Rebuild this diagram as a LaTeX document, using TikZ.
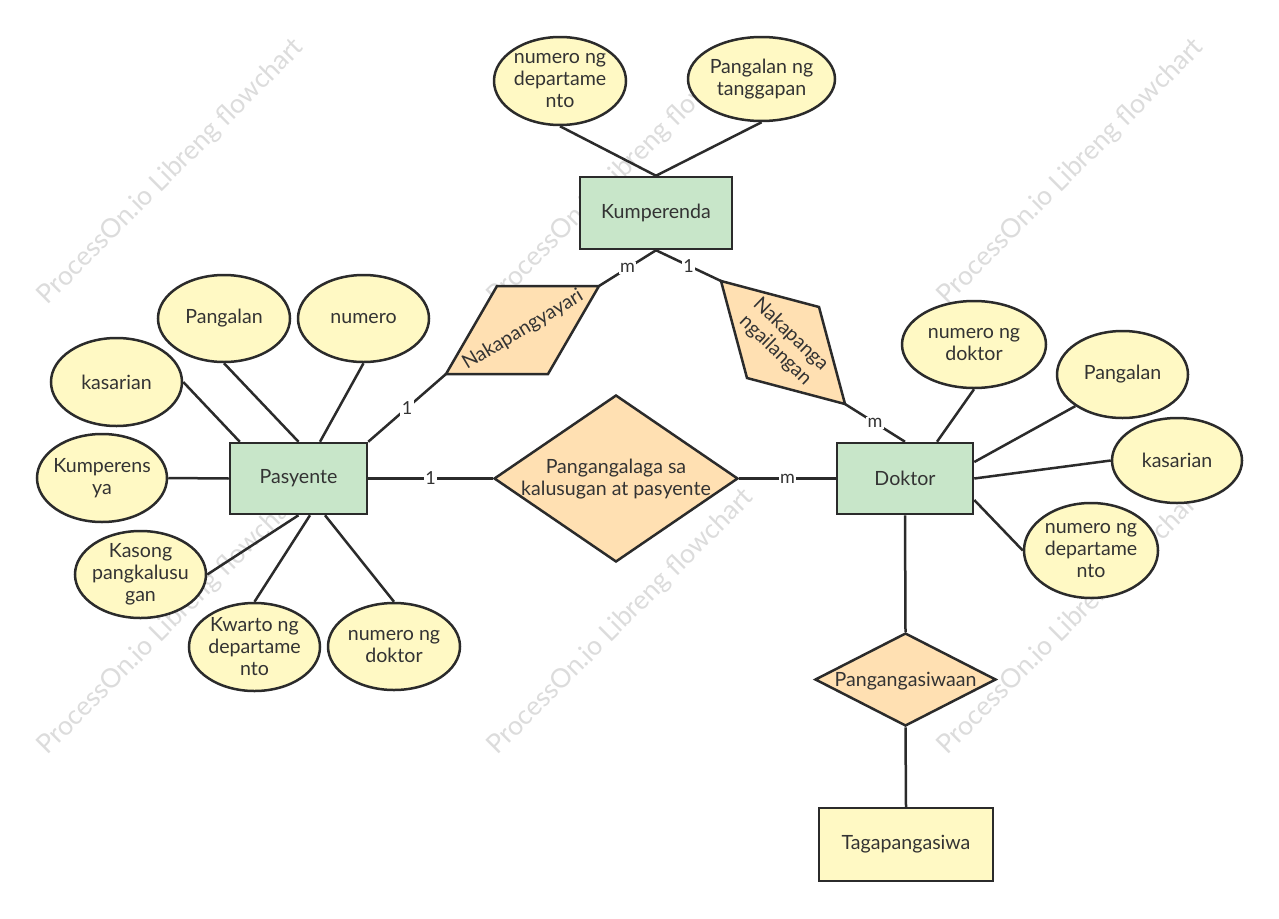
\documentclass[tikz,border=0pt]{standalone}
\usepackage{fontspec}
\setmainfont{Lato}
\usetikzlibrary{shapes.geometric,calc}
\definecolor{ent}{HTML}{C8E6C9}
\definecolor{attr}{HTML}{FFF9C4}
\definecolor{rel}{HTML}{FFE0B2}
\definecolor{ln}{HTML}{2B2B2B}
\definecolor{txt}{HTML}{333333}
\definecolor{wmc}{HTML}{DCDCDC}
\newcommand{\attrnode}[5]{%
  \node[attrib, minimum width=#3, minimum height=#4] (#1) at (#2) {};
  \node[tx] (#1-t) at (#1) {#5};}
\begin{document}
\begin{tikzpicture}[x=1pt,y=-1pt,
  tx/.style={font=\fontsize{19.6}{22}\selectfont, text=txt, align=center, inner sep=0pt},
  entity/.style={draw=ln, line width=2.5pt, fill=ent, rectangle, inner sep=0pt, tx},
  attrib/.style={draw=ln, line width=2.5pt, fill=attr, ellipse, inner sep=0pt},
  relat/.style={draw=ln, line width=2.5pt, fill=rel, diamond, inner sep=0pt},
  relshape/.style={draw=ln, line width=2.5pt, fill=rel, line join=miter},
  conn/.style={draw=ln, line width=2.5pt},
  card/.style={fill=white, inner sep=1.5pt, text=txt, font=\fontsize{18}{18}\selectfont},
  wm/.style={text=wmc, rotate=45, font=\fontsize{26.5}{26.5}\selectfont, inner sep=0pt}
]
\useasboundingbox[fill=white] (0,0) rectangle (1279,918);

% watermarks (behind everything)
\node[wm] (wm1) at (171,172) {ProcessOn.io Libreng flowchart};
\node[wm] (wm2) at (621,172) {ProcessOn.io Libreng flowchart};
\node[wm] (wm3) at (1071,172) {ProcessOn.io Libreng flowchart};
\node[wm] (wm4) at (171,622) {ProcessOn.io Libreng flowchart};
\node[wm] (wm5) at (621,622) {ProcessOn.io Libreng flowchart};
\node[wm] (wm6) at (1071,622) {ProcessOn.io Libreng flowchart};

% entities
\node[entity, minimum width=152, minimum height=72] (kum) at (656,213) {Kumperenda};
\node[entity, minimum width=137, minimum height=71] (pas) at (298.5,478.5) {Pasyente};
\node[entity, minimum width=136, minimum height=71] (dok) at (905,478.5) {Doktor};
\node[entity, fill=attr, minimum width=174, minimum height=73] (tag) at (906,844.5) {Tagapangasiwa};

% relationships (diamonds)
\node[relat, minimum width=244, minimum height=167] (rel1) at (616,478.5) {};
\node[tx] (rel1-t) at (616,479) {Pangangalaga sa\\kalusugan at pasyente};
\node[relat, minimum width=181, minimum height=93] (rel2) at (905.5,679.5) {};
\node[tx] (rel2-t) at (905.5,681) {Pangangasiwaan};

% relationships (rhombi)
\coordinate (r1-bl) at (446,374);
\coordinate (r1-tl) at (497,286);
\coordinate (r1-tr) at (599,286);
\coordinate (r1-br) at (548,374);
\path[relshape] (r1-bl) -- (r1-tl) -- (r1-tr) -- (r1-br) -- cycle;
\node[tx, rotate=31] (r1) at (523,330) {Nakapangyayari};

\coordinate (r2-tl) at (721,281);
\coordinate (r2-tr) at (819,307);
\coordinate (r2-br) at (845,404);
\coordinate (r2-bl) at (747,378);
\path[relshape] (r2-tl) -- (r2-tr) -- (r2-br) -- (r2-bl) -- cycle;
\node[tx, rotate=-44] (r2) at (783,342.5) {Nakapanga\\ngailangan};

% attributes of Kumperenda
\attrnode{k1}{560,81}{132}{88}{numero ng\\departame\\nto}
\attrnode{k2}{761.5,79}{147}{84}{Pangalan ng\\tanggapan}

% attributes of Pasyente
\attrnode{p1}{224,318.5}{132}{87}{Pangalan}
\attrnode{p2}{363.5,318.5}{131}{87}{numero}
\attrnode{p3}{116.5,382}{131}{88}{kasarian}
\attrnode{p4}{102,478}{130}{88}{Kumperens\\ya}
\attrnode{p5}{140.5,574.5}{131}{87}{Kasong\\pangkalusu\\gan}
\attrnode{p6}{254.5,647}{131}{88}{Kwarto ng\\departame\\nto}
\attrnode{p7}{394,646.5}{132}{87}{numero ng\\doktor}

% attributes of Doktor
\attrnode{d1}{974,344.5}{144}{87}{numero ng\\doktor}
\attrnode{d2}{1122.5,374.5}{131}{87}{Pangalan}
\attrnode{d3}{1177,460.5}{130}{85}{kasarian}
\attrnode{d4}{1091,550.5}{134}{95}{numero ng\\departame\\nto}

% attribute connectors
\draw[conn] (k1.south) -- (kum.north);
\draw[conn] (k2.south) -- (kum.north);
\draw[conn] (p1.south) -- (pas.north);
\draw[conn] (p2.south) -- ([xshift=21.5pt]pas.north);
\draw[conn] (p3.east) -- ([xshift=11pt]pas.north west);
\draw[conn] (p4.east) -- (pas.west);
\draw[conn] (p5.east) -- (pas.south);
\draw[conn] (p6.north) -- ([xshift=11.5pt]pas.south);
\draw[conn] (p7.north) -- ([xshift=26.5pt]pas.south);
\draw[conn] (d1.south) -- ([xshift=32pt]dok.north);
\draw[conn] (d2.south west) -- ([yshift=16.5pt]dok.east);
\draw[conn] (d3.west) -- (dok.east);
\draw[conn] (d4.west) -- ([yshift=-21.5pt]dok.east);

% relationship connectors
\draw[conn] (pas.north east) -- node[card] (c1) {1} (r1-bl);
\draw[conn] (pas.east) -- node[card] (c2) {1} (rel1.west);
\draw[conn] (rel1.east) -- node[card] (c3) {m} (dok.west);
\draw[conn] (kum.south) -- node[card] (c4) {m} (r1-tr);
\draw[conn] (kum.south) -- node[card] (c5) {1} (r2-tl);
\draw[conn] (r2-br) -- node[card] (c6) {m} (dok.north);
\draw[conn] (dok.south) -- (rel2.north);
\draw[conn] (rel2.south) -- (tag.north);
\end{tikzpicture}
\end{document}
